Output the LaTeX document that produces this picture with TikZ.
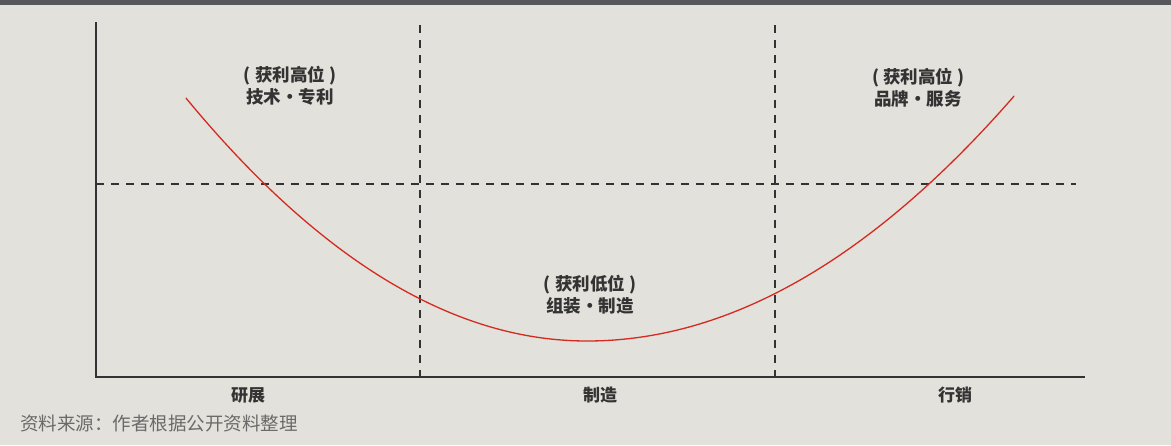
\documentclass[tikz,border=0pt]{standalone}
\usepackage{fontspec}
\setmainfont{Noto Sans CJK SC}
\newfontfamily\cjklight{Noto Sans CJK SC}
\definecolor{bg}{HTML}{E2E1DB}
\definecolor{topbar}{HTML}{58585A}
\definecolor{curvered}{HTML}{D42A20}
\definecolor{ink}{HTML}{333333}
\definecolor{srcgray}{HTML}{6A6A6A}
\begin{document}
\begin{tikzpicture}[x=1pt,y=-1pt,
  lbl/.style={font=\fontsize{17.5}{22}\selectfont\bfseries, text=ink, align=center, inner sep=0pt},
  axlbl/.style={font=\fontsize{17}{20}\selectfont\bfseries, text=ink, inner sep=0pt},
  axisline/.style={draw=ink, line width=1.5pt},
  guide/.style={draw=ink, line width=1.4pt, dash pattern=on 7.5pt off 7.5pt}]
\fill[bg] (0,0) rectangle (1171,445);
\fill[topbar] (0,0) rectangle (1171,4.5);
\useasboundingbox (0,0) rectangle (1171,445);
% coordinates
\coordinate (o) at (96,377);
\coordinate (ytop) at (96,22);
\coordinate (xend) at (1085,377);
\coordinate (d1t) at (420,25);
\coordinate (d1b) at (420,377);
\coordinate (d2t) at (775,25);
\coordinate (d2b) at (775,377);
\coordinate (hl) at (96,184);
\coordinate (hr) at (1076,184);
% guides
\draw[guide] (d1t) -- (d1b);
\draw[guide] (d2t) -- (d2b);
\draw[guide] (hl) -- (hr);
% axes
\draw[axisline] (ytop) -- (o) -- (xend);
% curve
\draw[curvered, line width=1.3pt, line cap=round] plot[domain=186:587, samples=80, variable=\t] ({\t},{341-0.00151*(\t-587)*(\t-587)})
  -- plot[domain=587:1014, samples=80, variable=\t] ({\t},{341-0.001345*(\t-587)*(\t-587)});
% labels
\node[lbl] (lt) at (290,86) {( 获利高位 )\\技术・专利};
\node[lbl] (rt) at (918,88) {( 获利高位 )\\品牌・服务};
\node[lbl] (mid) at (590,295) {( 获利低位 )\\组装・制造};
\node[axlbl] (a1) at (248,395) {研展};
\node[axlbl] (a2) at (600,395) {制造};
\node[axlbl] (a3) at (955,395) {行销};
\node[anchor=west, inner sep=0pt, text=srcgray, font=\fontsize{18.5}{22}\selectfont\cjklight] (src) at (20,424) {资料来源：作者根据公开资料整理};
\end{tikzpicture}
\end{document}
